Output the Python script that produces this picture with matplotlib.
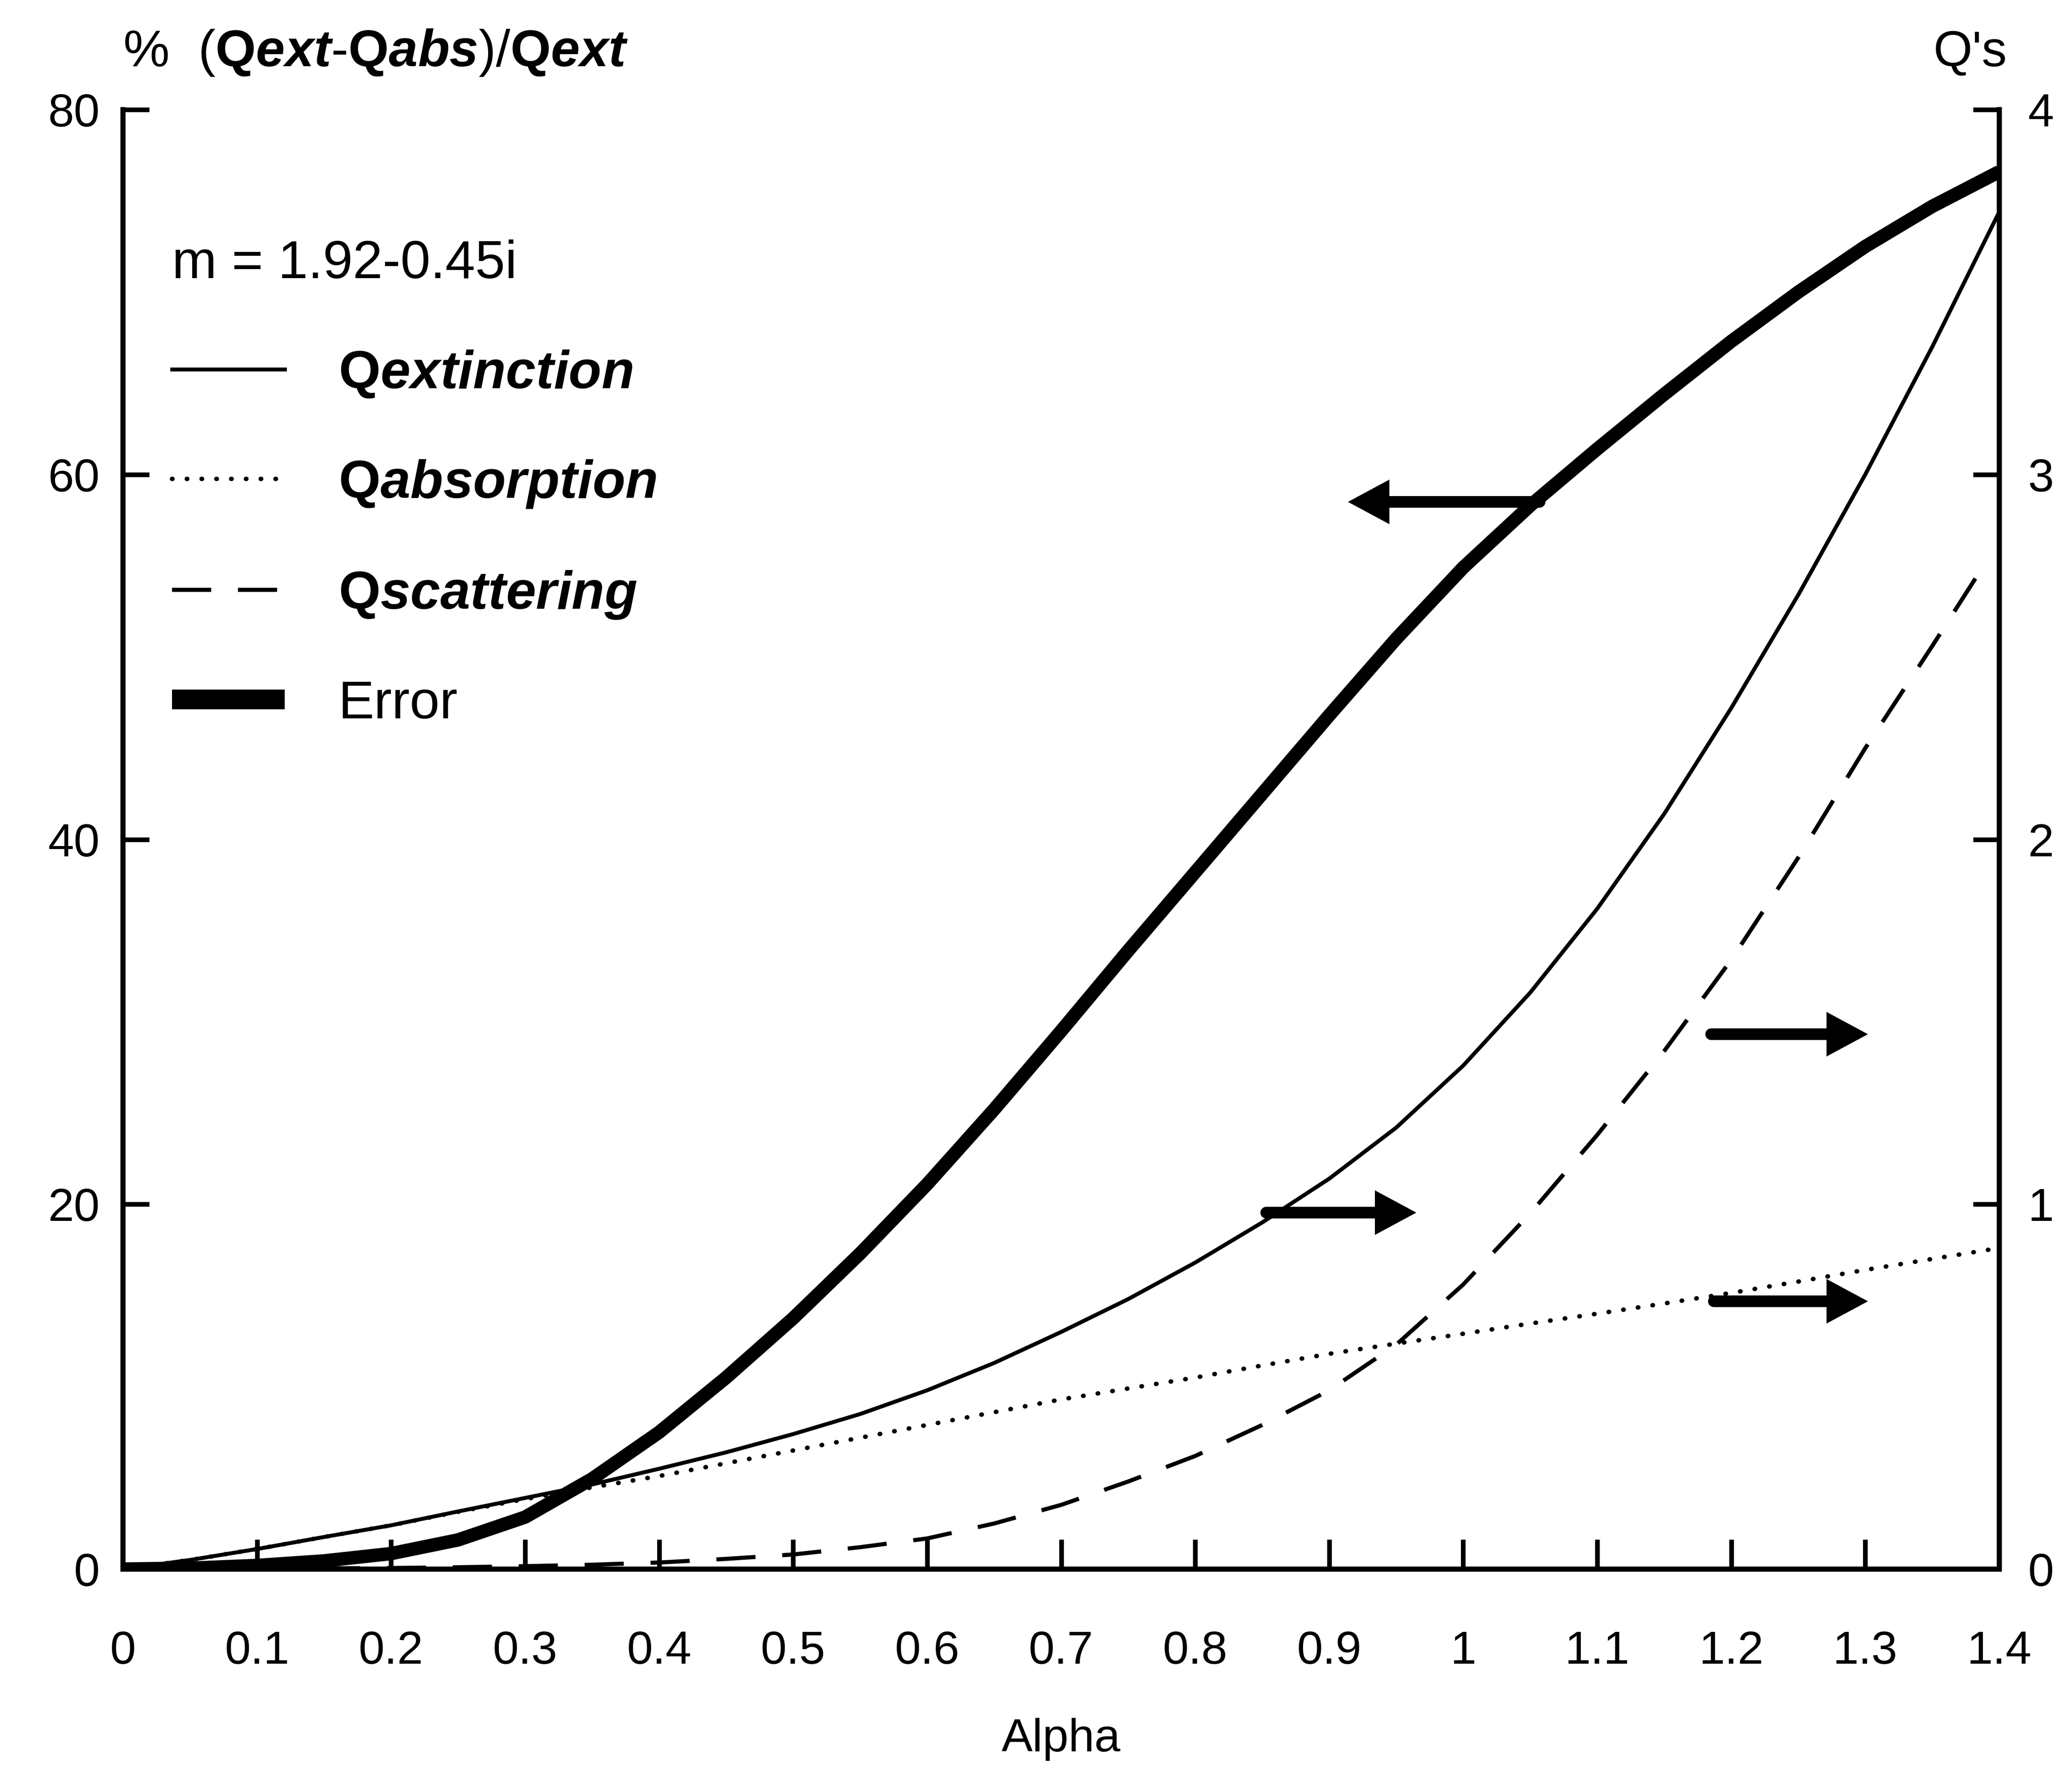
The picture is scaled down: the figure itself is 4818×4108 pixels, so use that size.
import matplotlib.pyplot as plt
from matplotlib.ticker import FuncFormatter

# Mie efficiencies for m = 1.92-0.45i versus size parameter
alpha = [0.0, 0.05, 0.1, 0.15, 0.2, 0.25, 0.3, 0.35, 0.4, 0.45, 0.5, 0.55, 0.6, 0.65,
         0.7, 0.75, 0.8, 0.85, 0.9, 0.95, 1.0, 1.05, 1.1, 1.15, 1.2, 1.25, 1.3, 1.35, 1.4]

error_pct = [0.0, 0.05, 0.2, 0.45, 0.85, 1.6, 2.85, 4.95, 7.5, 10.5, 13.75, 17.3, 21.1, 25.2,
             29.5, 33.9, 38.2, 42.5, 46.8, 51.0, 54.9, 58.3, 61.4, 64.4, 67.3, 70.0, 72.5, 74.7, 76.6]

q_ext = [0.0, 0.025, 0.055, 0.088, 0.12, 0.158, 0.195, 0.232, 0.275, 0.32, 0.37, 0.425, 0.49, 0.565,
         0.65, 0.74, 0.84, 0.95, 1.07, 1.21, 1.38, 1.58, 1.81, 2.07, 2.36, 2.67, 3.00, 3.35, 3.72]

q_abs = [0.0, 0.025, 0.055, 0.088, 0.12, 0.157, 0.192, 0.224, 0.255, 0.29, 0.325, 0.36, 0.395, 0.43,
         0.465, 0.495, 0.525, 0.558, 0.59, 0.618, 0.645, 0.673, 0.70, 0.728, 0.757, 0.788, 0.82, 0.85, 0.88]

alpha_sca = [0.0, 0.05, 0.1, 0.15, 0.2, 0.25, 0.3, 0.35, 0.4, 0.45, 0.5, 0.55, 0.6, 0.65,
             0.7, 0.75, 0.8, 0.85, 0.9, 0.95, 1.0, 1.05, 1.1, 1.15, 1.2, 1.25, 1.3, 1.35, 1.39]
q_sca = [0.0, 0.0, 0.0, 0.002, 0.003, 0.005, 0.008, 0.012, 0.018, 0.028, 0.04, 0.06, 0.084, 0.125,
         0.176, 0.24, 0.31, 0.395, 0.49, 0.615, 0.78, 0.975, 1.19, 1.42, 1.67, 1.95, 2.25, 2.53, 2.76]

# arrows showing which axis each curve belongs to: (tail alpha, head alpha, level)
arrow_left = [(1.057, 0.914, 58.5)]
arrows_right = [(0.853, 0.965, 0.977), (1.185, 1.302, 1.466), (1.187, 1.302, 0.734)]

plt.rcParams['font.family'] = 'Liberation Sans'
plt.rcParams['mathtext.fontset'] = 'custom'
plt.rcParams['mathtext.rm'] = 'Liberation Sans'
plt.rcParams['mathtext.it'] = 'Liberation Sans:italic:bold'
plt.rcParams['mathtext.bf'] = 'Liberation Sans:bold'

fig = plt.figure(figsize=(4818 / 300, 4108 / 300), dpi=300)
ax = fig.add_axes([0.0594, 0.1115, 0.9055, 0.8264])
ax2 = ax.twinx()

l_err, = ax.plot(alpha, error_pct, color='black', lw=7.5, solid_capstyle='butt', zorder=3)
l_ext, = ax2.plot(alpha, q_ext, color='black', lw=2.2)
l_abs, = ax2.plot(alpha, q_abs, color='black', lw=2.5, linestyle=(0, (0.1, 3.2)),
                  dash_capstyle='round')
l_sca, = ax2.plot(alpha_sca, q_sca, color='black', lw=2.3, linestyle=(0, (9.5, 6.5)))

ax.set_xlim(0, 1.4)
ax.set_ylim(0, 80)
ax2.set_ylim(0, 4)
ax.set_xticks([i / 10 for i in range(15)])
ax.set_yticks([0, 20, 40, 60, 80])
ax2.set_yticks([0, 1, 2, 3, 4])
ax.xaxis.set_major_formatter(FuncFormatter(lambda v, p: '%g' % round(v, 1)))

for a in (ax, ax2):
    a.spines['top'].set_visible(False)
    for s in ('left', 'right', 'bottom'):
        a.spines[s].set_linewidth(2.8)

ax.tick_params(axis='x', direction='in', length=16.5, width=2.6, pad=34, labelsize=26)
ax.tick_params(axis='y', direction='in', length=14.7, width=2.6, pad=13, labelsize=26)
ax2.tick_params(axis='y', direction='in', length=14.7, width=2.6, pad=16, labelsize=26)

ax.set_xlabel('Alpha', fontsize=26)
ax.xaxis.set_label_coords(0.5, -0.102)

arrow_style = dict(arrowstyle='-|>,head_length=13,head_width=7', lw=6.5, color='black',
                   shrinkA=0, shrinkB=0, mutation_scale=1, joinstyle='miter')
for x0, x1, y in arrow_left:
    ax.annotate('', xy=(x1, y), xytext=(x0, y), arrowprops=arrow_style)
for x0, x1, y in arrows_right:
    ax2.annotate('', xy=(x1, y), xytext=(x0, y), arrowprops=arrow_style)

leg = ax2.legend([l_ext, l_abs, l_sca, l_err],
                 [r'$\mathbf{Q}\mathit{extinction}$', r'$\mathbf{Q}\mathit{absorption}$',
                  r'$\mathbf{Q}\mathit{scattering}$', 'Error'],
                 loc='upper left', bbox_to_anchor=(0.026, 0.911), frameon=False,
                 prop={'size': 30}, title='m = 1.92-0.45i', title_fontproperties={'size': 30},
                 alignment='left', handlelength=2.1, handletextpad=1.0,
                 labelspacing=1.1, borderpad=0, borderaxespad=0)
leg.legend_handles[3].set_linewidth(11)

fig.text(0.0594, 0.9625, r'%  ($\mathbf{Q}\mathit{ext}$-$\mathbf{Q}\mathit{abs}$)/$\mathbf{Q}\mathit{ext}$',
         fontsize=29, ha='left', va='baseline')
fig.text(0.9687, 0.9625, "Q's", fontsize=28, ha='right', va='baseline')

fig.savefig('out.png', dpi=300, facecolor='white')
